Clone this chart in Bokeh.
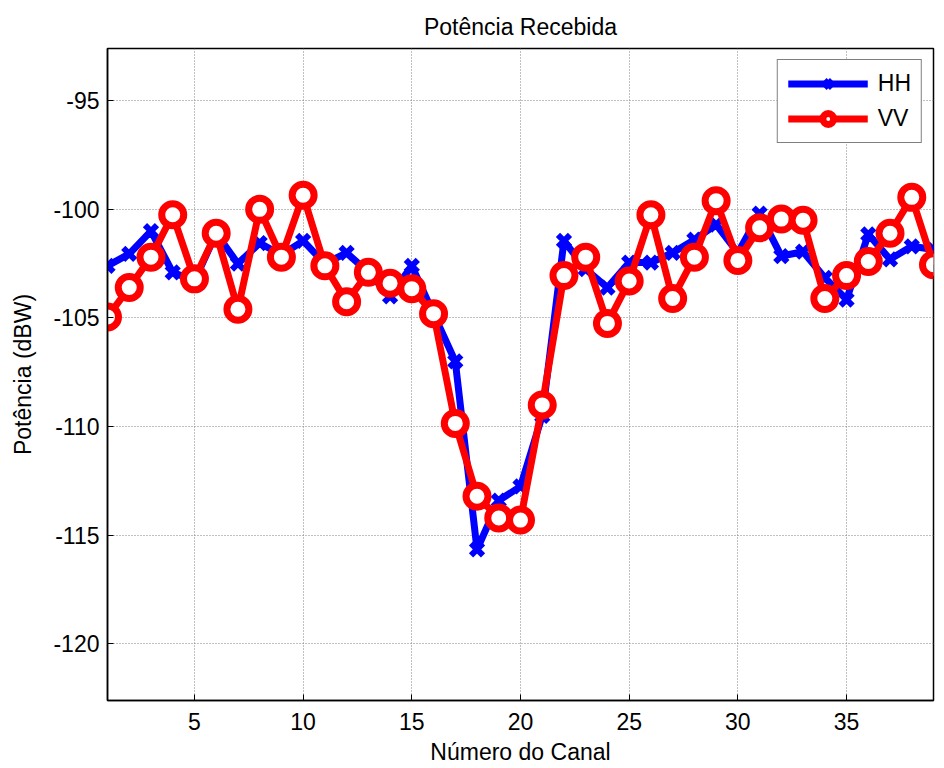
from bokeh.plotting import figure
from bokeh.models import FixedTicker, Range1d, Legend, LegendItem
from bokeh.embed import file_html
from bokeh.resources import INLINE

canal = list(range(1, 40))
hh = [-102.6, -102.05, -101.0, -102.9, -103.3, -101.1, -102.5, -101.55, -102.1, -101.45,
      -102.5, -102.0, -102.9, -104.0, -102.6, -104.8, -107.0, -115.65, -113.4, -112.75,
      -109.5, -101.45, -102.75, -103.6, -102.45, -102.45, -102.0, -101.4, -100.7, -102.0,
      -100.2, -102.15, -101.95, -103.15, -104.15, -101.15, -102.3, -101.7, -101.85]
vv = [-104.95, -103.6, -102.2, -100.25, -103.2, -101.1, -104.6, -100.0, -102.2, -99.35,
      -102.6, -104.25, -102.9, -103.4, -103.65, -104.8, -109.85, -113.2, -114.2, -114.3,
      -109.0, -103.05, -102.2, -105.25, -103.3, -100.25, -104.1, -102.2, -99.6, -102.35,
      -100.85, -100.45, -100.5, -104.1, -103.05, -102.4, -101.1, -99.45, -102.55]
x_ticks = [5, 10, 15, 20, 25, 30, 35]
y_ticks = [-120, -115, -110, -105, -100, -95]
y_tick_labels = ["-120", "-115", "-110", "-105", "-100", "-95"]

FONT = "Liberation Sans"
FS = "23px"

p = figure(width=944, height=768, output_backend="svg", toolbar_location=None,
           x_range=Range1d(1, 39), y_range=Range1d(-122.6, -92.6),
           title="Potência Recebida",
           min_border_left=107, min_border_right=11, min_border_top=48, min_border_bottom=68)

p.title.align = "center"
p.title.text_font = FONT
p.title.text_font_size = FS
p.title.text_font_style = "normal"
p.title.text_color = "black"
p.title.standoff = 17

p.outline_line_color = "black"
p.outline_line_width = 1.5
p.background_fill_color = "white"
p.border_fill_color = "white"

for ax in (p.xaxis[0], p.yaxis[0]):
    ax.major_label_text_font = FONT
    ax.major_label_text_font_size = FS
    ax.major_label_text_color = "black"
    ax.axis_label_text_font = FONT
    ax.axis_label_text_font_size = FS
    ax.axis_label_text_font_style = "normal"
    ax.axis_label_text_color = "black"
    ax.major_tick_in = 6
    ax.major_tick_out = 0
    ax.minor_tick_in = 0
    ax.minor_tick_out = 0
    ax.axis_line_color = "black"
    ax.axis_line_width = 1.5
    ax.major_tick_line_color = "black"

p.xaxis[0].ticker = FixedTicker(ticks=x_ticks)
p.yaxis[0].ticker = FixedTicker(ticks=y_ticks)
p.yaxis[0].major_label_overrides = {t: s for t, s in zip(y_ticks, y_tick_labels)}
p.xaxis[0].axis_label = "Número do Canal"
p.yaxis[0].axis_label = "Potência (dBW)"
p.xaxis[0].major_label_standoff = 12
p.yaxis[0].major_label_standoff = 8
p.xaxis[0].axis_label_standoff = 6
p.yaxis[0].axis_label_standoff = 14

p.xgrid[0].ticker = FixedTicker(ticks=x_ticks)
p.ygrid[0].ticker = FixedTicker(ticks=y_ticks)
for g in (p.xgrid[0], p.ygrid[0]):
    g.grid_line_color = "#808080"
    g.grid_line_dash = "1 2"
    g.grid_line_width = 1

l_hh = p.line(canal, hh, line_color="blue", line_width=7)
m_hh = p.scatter(canal, hh, marker="x", size=17, line_color="blue", line_width=6)
l_vv = p.line(canal, vv, line_color="red", line_width=7)
m_vv = p.scatter(canal, vv, marker="circle", size=22, line_color="red", line_width=7,
                 fill_color="white")

legend = Legend(items=[LegendItem(label="HH", renderers=[l_hh, m_hh]),
                       LegendItem(label="VV", renderers=[l_vv, m_vv])],
                location="top_right", margin=11, padding=10, spacing=8,
                glyph_width=80, glyph_height=27, label_height=27, label_standoff=10,
                label_text_font=FONT, label_text_font_size=FS, label_text_color="black",
                border_line_color="black", border_line_width=1.5,
                background_fill_color="white", background_fill_alpha=1.0)
p.add_layout(legend)

open("out.html", "w").write(file_html(p, INLINE))
